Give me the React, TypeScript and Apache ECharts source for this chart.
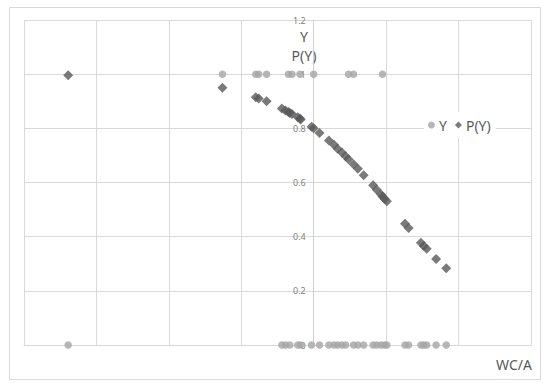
import React, { useEffect, useRef } from "react";
import * as echarts from "echarts";

// Observed outcome Y (0/1) at WC/A values (x in grid units)
const yOneX = [-1.26, -0.8, -0.76, -0.65, -0.35, -0.3, -0.19, 0.0, 0.48, 0.55, 0.95];
const yZeroX = [
  -3.39, -0.44, -0.39, -0.33, -0.22, -0.18, -0.03, 0.08, 0.21, 0.28, 0.33, 0.39, 0.44,
  0.55, 0.61, 0.69, 0.82, 0.87, 0.93, 0.98, 1.01, 1.26, 1.31, 1.48, 1.52, 1.56, 1.69, 1.83,
];

// Fitted probability P(Y)
const pX = [
  -3.39, -1.26, -0.8, -0.76, -0.65, -0.44, -0.39, -0.35, -0.33, -0.3, -0.22, -0.19, -0.18,
  -0.03, 0.0, 0.08, 0.21, 0.28, 0.33, 0.39, 0.44, 0.48, 0.55, 0.61, 0.69, 0.82, 0.87, 0.93,
  0.95, 0.98, 1.01, 1.26, 1.31, 1.48, 1.52, 1.56, 1.69, 1.83,
];
const pY = [
  0.996, 0.95, 0.915, 0.91, 0.9, 0.873, 0.866, 0.86, 0.857, 0.853, 0.841, 0.836, 0.833,
  0.806, 0.8, 0.783, 0.755, 0.739, 0.725, 0.711, 0.697, 0.686, 0.667, 0.651, 0.627, 0.59,
  0.573, 0.556, 0.548, 0.539, 0.531, 0.448, 0.432, 0.378, 0.366, 0.355, 0.318, 0.283,
];

const yTicks = { min: 0, max: 1.2, interval: 0.2 };
const xTicks = { min: -4, max: 3, interval: 1 };

const FONT = "Noto Sans";
const GRID_LEFT = 24;
const GRID_RIGHT = 19;
const WIDTH = 550;

export default function App() {
  const ref = useRef<HTMLDivElement>(null);
  useEffect(() => {
    if (!ref.current) return;
    const chart = echarts.init(ref.current, null, { renderer: "svg" });
    const yData = [
      ...yOneX.map((x) => [x, 1]),
      ...yZeroX.map((x) => [x, 0]),
    ];
    const pData = pX.map((x, i) => [x, pY[i]]);
    const plotW = WIDTH - GRID_LEFT - GRID_RIGHT;
    const zeroOffset = (plotW * (0 - xTicks.min)) / (xTicks.max - xTicks.min);
    chart.setOption({
      animation: false,
      backgroundColor: "#ffffff",
      grid: { left: GRID_LEFT, right: GRID_RIGHT, top: 20, bottom: 40 },
      xAxis: {
        type: "value",
        min: xTicks.min,
        max: xTicks.max,
        interval: xTicks.interval,
        axisLine: { show: true, onZero: true, lineStyle: { color: "#d9d9d9", width: 1 } },
        axisTick: { show: false },
        axisLabel: { show: false },
        splitLine: { show: true, lineStyle: { color: "#d9d9d9", width: 1 } },
      },
      yAxis: {
        type: "value",
        position: "left",
        offset: -zeroOffset,
        min: yTicks.min,
        max: yTicks.max,
        interval: yTicks.interval,
        axisLine: { show: true, onZero: false, lineStyle: { color: "#d0d0d0", width: 1 } },
        axisTick: { show: false },
        axisLabel: { show: true, color: "#7f7f7f", fontSize: 9, fontFamily: FONT, margin: 8 },
        splitLine: { show: true, lineStyle: { color: "#d9d9d9", width: 1 } },
      },
      legend: {
        left: 424,
        top: 112,
        orient: "horizontal",
        backgroundColor: "#ffffff",
        padding: [6, 5, 6, 4],
        itemGap: 8,
        itemWidth: 7,
        itemHeight: 7,
        textStyle: { color: "#595959", fontSize: 14, fontFamily: FONT, padding: [0, 0, 0, -1] },
        data: [
          { name: "Y", icon: "circle" },
          { name: "P(Y)", icon: "diamond" },
        ],
      },
      graphic: [
        {
          type: "rect",
          shape: { x: 9.5, y: 7.5, width: 531, height: 372 },
          style: { fill: "none", stroke: "#d9d9d9", lineWidth: 1 },
          silent: true,
        },
        {
          type: "text",
          x: 304,
          y: 36,
          style: {
            text: "Y",
            fill: "#595959",
            font: `14px "${FONT}"`,
            textAlign: "center",
            textVerticalAlign: "middle",
          },
        },
        {
          type: "text",
          x: 304,
          y: 55,
          style: {
            text: "P(Y)",
            fill: "#595959",
            font: `14px "${FONT}"`,
            textAlign: "center",
            textVerticalAlign: "middle",
          },
        },
        {
          type: "text",
          x: 532,
          y: 364,
          style: {
            text: "WC/A",
            fill: "#595959",
            font: `14px "${FONT}"`,
            textAlign: "right",
            textVerticalAlign: "middle",
          },
        },
      ],
      series: [
        {
          name: "Y",
          type: "scatter",
          symbol: "circle",
          symbolSize: 7.5,
          itemStyle: { color: "#a5a5a5" },
          data: yData,
          z: 2,
        },
        {
          name: "P(Y)",
          type: "scatter",
          symbol: "diamond",
          symbolSize: 10,
          itemStyle: { color: "#595959" },
          data: pData,
          z: 3,
        },
      ],
    });
    return () => chart.dispose();
  }, []);
  return (
    <div
      ref={ref}
      style={{ position: "fixed", left: 0, top: 0, width: 550, height: 385 }}
    />
  );
}
